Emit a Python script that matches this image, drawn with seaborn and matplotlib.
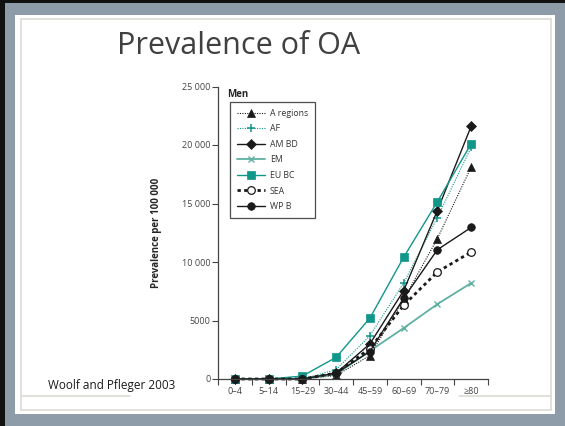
import seaborn as sns
import pandas as pd
import numpy as np
import matplotlib.pyplot as plt
from matplotlib.patches import Rectangle
from matplotlib.lines import Line2D

sns.set_style("ticks")
plt.rcParams["font.family"] = ["Open Sans", "DejaVu Sans"]

ages = ["0–4", "5–14", "15–29", "30–44", "45–59", "60–69", "70–79", "≥80"]
a_regions = [0, 0, 0, 300, 2000, 6800, 12000, 18100]
af = [0, 0, 0, 800, 3700, 8200, 13800, 19800]
am_bd = [0, 0, 0, 500, 3000, 7550, 14400, 21600]
em = [0, 0, 0, 400, 2400, 4350, 6400, 8200]
eu_bc = [0, 0, 250, 1850, 5200, 10400, 15150, 20100]
sea = [0, 0, 0, 500, 2600, 6300, 9150, 10850]
wp_b = [0, 0, 0, 500, 2350, 6900, 11050, 12950]

names = ["A regions", "AF", "AM BD", "EM", "EU BC", "SEA", "WP B"]
series = [a_regions, af, am_bd, em, eu_bc, sea, wp_b]

df = pd.DataFrame({
    "age": ages * len(names),
    "region": np.repeat(names, len(ages)),
    "prev": np.concatenate(series),
})

black = "#1a1a1a"
teal = "#11968a"
teal_light = "#5fb0a2"
styles = {
    "A regions": dict(color=black, marker="^", linestyle=(0, (1, 1.2)), lw=0.8, ms=5.5,
                      mec=black, mew=0.5),
    "AF": dict(color=teal, marker="+", linestyle=(0, (1, 1.2)), lw=0.8, ms=6,
               mec=teal, mew=1.1),
    "AM BD": dict(color=black, marker="D", linestyle="-", lw=1.0, ms=5, mec=black, mew=0.5),
    "EM": dict(color=teal_light, marker="x", linestyle="-", lw=1.3, ms=4.5,
               mec=teal_light, mew=1.0),
    "EU BC": dict(color=teal, marker="s", linestyle="-", lw=1.0, ms=5.5, mec=teal, mew=0.5),
    "SEA": dict(color=black, marker="o", linestyle=(0, (1.2, 1.2)), lw=2.0, ms=5.5,
                mfc="white", mec=black, mew=0.9),
    "WP B": dict(color=black, marker="o", linestyle="-", lw=1.0, ms=5.5, mec=black, mew=0.5),
}

fig = plt.figure(figsize=(5.65, 4.26), dpi=100)
fig.patch.set_facecolor("#8d9ca8")

# slide frame
W, H = 565.0, 426.0
def box(x0, y0, x1, y1, **kw):
    fig.patches.append(Rectangle((x0 / W, 1 - y1 / H), (x1 - x0) / W, (y1 - y0) / H,
                                 transform=fig.transFigure, zorder=-5, **kw))

box(0, 0, 565, 3, color="#111111", lw=0)
box(0, 0, 5, 426, color="#111111", lw=0)
box(15, 15, 555, 414, color="white", lw=0)
box(21, 19, 551, 410, fill=False, ec="#dcdcd6", lw=1.2)
fig.add_artist(Line2D([21 / W, 130 / W], [1 - 396 / H] * 2, color="#dcdcd6", lw=1.2, zorder=-4))
fig.add_artist(Line2D([459 / W, 551 / W], [1 - 396 / H] * 2, color="#dcdcd6", lw=1.2, zorder=-4))

fig.text(239 / W, 1 - 46 / H, "Prevalence of OA", ha="center", va="center",
         fontsize=22, color="#404040")
fig.text(48 / W, 1 - 386 / H, "Woolf and Pfleger 2003", ha="left", va="center",
         fontsize=8.5, color="#1a1a1a")

ax = fig.add_axes([218 / W, 1 - 379 / H, 270 / W, 292.5 / H])
ax.set_facecolor("none")
ax.set_zorder(5)

for name in names:
    sub = df[df["region"] == name]
    sns.lineplot(data=sub, x="age", y="prev", ax=ax, sort=False, clip_on=False,
                 label=name, **styles[name])

ax.set_xlim(-0.5, 7.5)
ax.set_ylim(0, 25000)
ax.set_xticks(np.arange(-0.5, 8, 1), labels=[""] * 9)
ax.set_xticks(range(8), labels=ages, minor=True)
ax.set_yticks([0, 5000, 10000, 15000, 20000, 25000],
              labels=["0", "5000", "10 000", "15 000", "20 000", "25 000"])
ax.tick_params(axis="both", which="major", length=4, width=0.8, color="#444444",
               labelsize=6.5, labelcolor="#444444", pad=1.5)
ax.tick_params(axis="x", which="minor", length=0, labelsize=6.5, labelcolor="#444444", pad=6)
ax.set_xlabel("")
ax.set_ylabel("Prevalence per 100 000", fontsize=7, fontweight="bold", labelpad=14)
sns.despine(ax=ax)
for s in ["left", "bottom"]:
    ax.spines[s].set_color("#444444")
    ax.spines[s].set_linewidth(0.9)

ax.text(0.035, 0.99, "Men", transform=ax.transAxes, fontsize=7, fontweight="bold",
        ha="left", va="top")
leg = ax.legend(loc="upper left", bbox_to_anchor=(0.03, 0.963), fontsize=6.3,
                frameon=True, fancybox=False, edgecolor="#222222", handlelength=3.2,
                labelspacing=0.75, borderpad=0.8, handletextpad=0.5)
leg.get_frame().set_linewidth(0.9)
for t in leg.get_texts():
    t.set_color("#333333")

fig.savefig("out.png", dpi=100, facecolor=fig.get_facecolor())
